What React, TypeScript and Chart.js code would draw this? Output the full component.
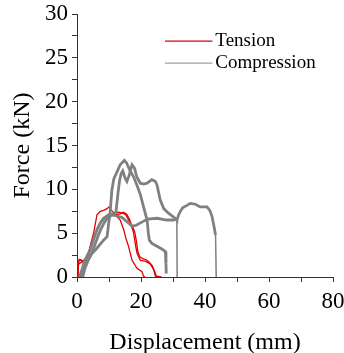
import React, { useEffect, useRef } from "react";
import { Chart, registerables } from "chart.js";

Chart.register(...registerables);

type Pt = [number, number];

const tension1: Pt[] = [[0,0],[0.3,1.0],[0.7,2.0],[1.5,1.8],[2.5,2.0],[3.6,2.3],[4.3,3.8],[5.2,5.0],[6.25,7.1],[7.3,7.5],[8.3,7.6],[9.4,7.8],[10,8.0],[10.8,7.6],[12,7.1],[13.5,6.5],[14.6,5.4],[15.3,4.4],[16.1,3.5],[17.2,1.9],[18.75,1.0],[20.3,0.6],[20.8,0.1],[21.2,0]];
const tension2: Pt[] = [[0,0],[0.3,1.8],[1,2.0],[2,1.8],[3,2.2],[4.2,3.5],[5.5,4.8],[7.3,6.1],[8.5,6.7],[9.4,6.9],[10.5,7.2],[12,7.1],[13.5,7.2],[14.5,7.4],[15.5,7.2],[16.5,6.5],[17.2,5.6],[17.7,5.0],[18.3,3.6],[18.75,2.7],[19.8,1.9],[21.3,1.8],[22.9,1.5],[24,0.8],[24.5,0.1],[26.4,0]];
const tension3: Pt[] = [[0.2,0],[0.5,1.5],[1.5,1.7],[2.5,2.0],[3.5,2.6],[4.8,3.8],[6,5.0],[7.5,6.3],[9,6.8],[10.5,7.0],[12,7.3],[13,7.4],[14.2,7.3],[15.2,7.1],[16,6.6],[17,6.0],[18,5.2],[18.6,4.0],[19,2.9],[19.6,2.3],[20.5,2.1],[21.5,2.0],[22.5,1.7],[23.5,1.3],[24.3,0.6],[24.8,0.1],[26,0]];

const compression1: Pt[] = [[0.8,0],[1.5,0.8],[2.5,1.6],[3.5,2.0],[4.2,2.5],[6,3.2],[8.3,4.2],[9.4,4.6],[10.4,7.6],[10.9,9.9],[11.5,11.2],[12.5,12.0],[13.5,12.8],[14.8,13.3],[15.5,13.0],[16.5,12.2],[17.7,11.4],[18.8,10.4],[19.8,9.4],[20.8,8.0],[21.9,6.5],[22.3,5.0],[22.6,4.2],[23.5,3.8],[25,3.5],[26.5,3.2],[27.6,2.9],[27.8,1.5],[27.9,0.4]];
const compression2: Pt[] = [[1.8,0],[2.5,1.0],[3.5,1.9],[4.5,2.6],[5.5,3.6],[6.5,4.6],[7.5,5.5],[8.5,6.2],[9.5,6.7],[10.5,7.0],[11.5,7.1],[12.2,7.5],[12.8,9.5],[13.3,11.0],[13.8,11.8],[14.3,12.1],[15,11.3],[15.6,10.9],[16.3,11.6],[17.2,12.8],[18,12.4],[18.7,11.4],[19.8,10.7],[20.8,10.6],[21.9,10.7],[23.4,11.1],[24.5,10.9],[25,10.5],[26,8.8],[27.1,7.8],[28.5,7.3],[30,6.9],[31,6.6],[31.2,6.5],[31.3,0]];
const compression3: Pt[] = [[1.2,0],[2.1,1.6],[3,2.3],[4,3.0],[5,4.1],[6.25,5.4],[7.3,6.2],[8.3,6.7],[9.9,7.1],[11,7.1],[12,7.0],[13,6.9],[14,6.8],[15,6.5],[16,6.2],[17.2,5.8],[18.5,5.9],[20,6.2],[21,6.4],[22,6.6],[25,6.7],[28,6.5],[30,6.5],[31.3,6.6],[32,7.3],[33,7.9],[34.5,8.2],[35.4,8.4],[37,8.3],[38.5,8.0],[40.6,8.0],[41.5,7.6],[42.2,6.9],[42.8,5.8],[43.3,4.8],[43.5,0]];

const legendLabels = ["Tension", "Compression"];
const xTitle = "Displacement (mm)";
const yTitle = "Force (kN)";

const RED = "rgb(225,0,0)";
const GRAY = "rgb(128,128,128)";
const LEGEND_GRAY = "rgb(160,160,160)";
const AXIS = "#333";
const FONT = "'Liberation Serif', 'Times New Roman', serif";

const toData = (pts: Pt[]) => pts.map(([x, y]) => ({ x, y }));

const legendPlugin = {
  id: "customLegend",
  afterDraw(chart: any) {
    const ctx = chart.ctx;
    const x0 = chart.scales.x.getPixelForValue(27.5);
    const x1 = chart.scales.x.getPixelForValue(42.3);
    const rows = [
      { label: legendLabels[0], color: RED, y: chart.scales.y.getPixelForValue(26.9) },
      { label: legendLabels[1], color: LEGEND_GRAY, y: chart.scales.y.getPixelForValue(24.4) },
    ];
    ctx.save();
    ctx.font = `19px ${FONT}`;
    ctx.textBaseline = "middle";
    ctx.fillStyle = "#000";
    rows.forEach((r) => {
      ctx.strokeStyle = r.color;
      ctx.lineWidth = 1.3;
      ctx.beginPath();
      ctx.moveTo(x0, r.y);
      ctx.lineTo(x1, r.y);
      ctx.stroke();
      ctx.fillText(r.label, x1 + 3, r.y);
    });
    ctx.restore();
  },
};

export default function App() {
  const ref = useRef<HTMLCanvasElement>(null);
  useEffect(() => {
    if (!ref.current) return;
    const thinDrop = (ctx: any, w: number) => {
      const a = ctx.p0.parsed, b = ctx.p1.parsed;
      if (b.y === 0 && a.y > 3 && Math.abs(b.x - a.x) < 0.5) return 1.5;
      return w;
    };
    const mk = (pts: Pt[], color: string, w: number) => ({
      data: toData(pts),
      borderColor: color,
      borderWidth: w,
      showLine: true,
      pointRadius: 0,
      fill: false,
      tension: 0,
      segment: { borderWidth: (c: any) => thinDrop(c, w) },
    });
    const chart = new Chart(ref.current, {
      type: "scatter",
      data: {
        datasets: [
          mk(compression1, GRAY, 2.8),
          mk(compression2, GRAY, 2.8),
          mk(compression3, GRAY, 2.8),
          mk(tension1, RED, 1.3),
          mk(tension2, RED, 1.3),
          mk(tension3, RED, 1.3),
        ],
      },
      options: {
        animation: false,
        responsive: false,
        layout: { padding: { left: 0, right: 11, top: 14, bottom: 0 } },
        plugins: { legend: { display: false }, tooltip: { enabled: false } },
        scales: {
          x: {
            type: "linear",
            min: 0,
            max: 80,
            ticks: {
              stepSize: 10,
              font: { family: FONT, size: 23, lineHeight: 1.0 },
              color: "#000",
              padding: 8,
              maxRotation: 0,
              autoSkip: false,
              callback: (v: any) => (Number(v) % 20 === 0 ? String(v) : ""),
            },
            grid: { drawOnChartArea: false, tickLength: 5, color: AXIS, tickColor: AXIS },
            border: { color: AXIS, width: 1 },
            title: { display: true, text: xTitle, font: { family: FONT, size: 24, lineHeight: 1.0 }, color: "#000", padding: { top: 0, bottom: -2 } },
            afterFit: (s: any) => { s.height = 76; s.paddingLeft = 0; s.paddingRight = 0; },
          },
          y: {
            type: "linear",
            min: 0,
            max: 30,
            ticks: {
              stepSize: 2.5,
              font: { family: FONT, size: 23, lineHeight: 1.0 },
              color: "#000",
              padding: 4,
              autoSkip: false,
              callback: (v: any) => (Number(v) % 5 === 0 ? String(v) : ""),
            },
            grid: { drawOnChartArea: false, tickLength: 5, color: AXIS, tickColor: AXIS },
            border: { color: AXIS, width: 1 },
            title: { display: true, text: yTitle, font: { family: FONT, size: 24 }, color: "#000", padding: { top: 8, bottom: 0 } },
            afterFit: (s: any) => { s.width = 77; s.paddingTop = 0; s.paddingBottom = 0; },
          },
        },
      },
      plugins: [legendPlugin],
    });
    return () => chart.destroy();
  }, []);
  return (
    <div style={{ position: "absolute", left: 0, top: 0, width: 344, height: 353, background: "#fff" }}>
      <canvas ref={ref} width={344} height={353} style={{ width: 344, height: 353 }} />
    </div>
  );
}
